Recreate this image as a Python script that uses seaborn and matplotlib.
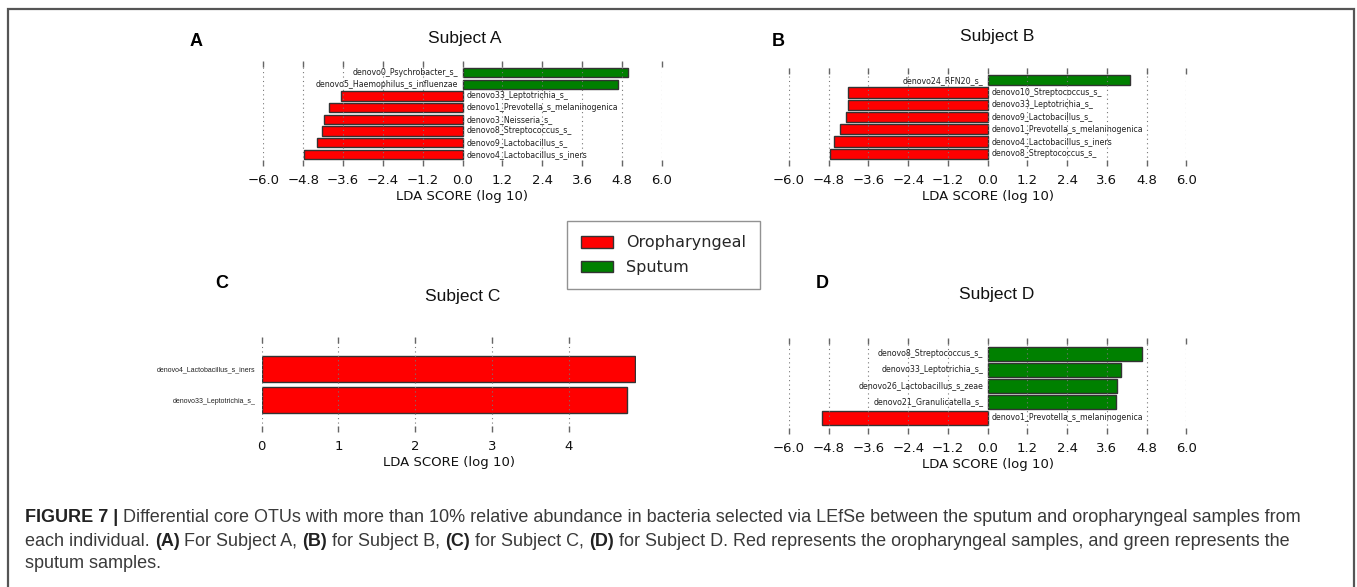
import matplotlib
matplotlib.use("Agg")
import matplotlib.pyplot as plt
import matplotlib.patches as mpatches
import seaborn as sns
import pandas as pd
import numpy as np

sns.set_style("white")
plt.rcParams['font.family'] = ['DejaVu Sans']

RED = "#FF0000"
GREEN = "#008000"
PAL = {"Oropharyngeal": RED, "Sputum": GREEN}

# ---------------- data ----------------
a_names = ["denovo0_Psychrobacter_s_", "denovo5_Haemophilus_s_influenzae",
           "denovo33_Leptotrichia_s_", "denovo1_Prevotella_s_melaninogenica",
           "denovo3_Neisseria_s_", "denovo8_Streptococcus_s_",
           "denovo9_Lactobacillus_s_", "denovo4_Lactobacillus_s_iners"]
a_scores = [4.97, 4.67, -3.67, -4.02, -4.16, -4.22, -4.39, -4.76]

b_names = ["denovo24_RFN20_s_", "denovo10_Streptococcus_s_",
           "denovo33_Leptotrichia_s_", "denovo9_Lactobacillus_s_",
           "denovo1_Prevotella_s_melaninogenica", "denovo4_Lactobacillus_s_iners",
           "denovo8_Streptococcus_s_"]
b_scores = [4.31, -4.22, -4.23, -4.28, -4.47, -4.65, -4.75]

c_names = ["denovo4_Lactobacillus_s_iners", "denovo33_Leptotrichia_s_"]
c_scores = [4.86, 4.76]

d_names = ["denovo8_Streptococcus_s_", "denovo33_Leptotrichia_s_",
           "denovo26_Lactobacillus_s_zeae", "denovo21_Granulicatella_s_",
           "denovo1_Prevotella_s_melaninogenica"]
d_scores = [4.66, 4.02, 3.90, 3.88, -5.00]

sym_ticks = [-6.0, -4.8, -3.6, -2.4, -1.2, 0.0, 1.2, 2.4, 3.6, 4.8, 6.0]
c_ticks = [0, 1, 2, 3, 4]

titles = ["Subject A", "Subject B", "Subject C", "Subject D"]
letters = ["A", "B", "C", "D"]
legend_labels = ["Oropharyngeal", "Sputum"]
xlabel = "LDA SCORE (log 10)"

caption = [
    [("FIGURE 7 | ", True), ("Differential core OTUs with more than 10% relative abundance in bacteria selected via LEfSe between the sputum and oropharyngeal samples from", False)],
    [("each individual. ", False), ("(A)", True), (" For Subject A, ", False), ("(B)", True),
     (" for Subject B, ", False), ("(C)", True), (" for Subject C, ", False), ("(D)", True),
     (" for Subject D. Red represents the oropharyngeal samples, and green represents the", False)],
    [("sputum samples.", False)],
]

W, H = 1357, 587
fig = plt.figure(figsize=(W / 100, H / 100), dpi=100)


def px_axes(left, top, right, bottom):
    return fig.add_axes([left / W, 1 - bottom / H, (right - left) / W, (bottom - top) / H])


def style_axes(ax, ticks):
    for s in ax.spines.values():
        s.set_visible(False)
    ax.set_xticks(ticks)
    ax.grid(True, axis='x', linestyle=(0, (1, 3)), color='#777777', linewidth=0.8)
    ax.grid(False, axis='y')
    ax.set_axisbelow(False)
    ax.tick_params(axis='x', which='major', direction='in', length=4.5, width=1.0,
                   color='#666666', top=True, bottom=True, labelsize=9.5, pad=6,
                   labelcolor='#111111')
    ax.tick_params(axis='y', left=False, right=False)
    ax.set_xlabel(xlabel, fontsize=9.5, color='#111111', labelpad=2)
    ax.set_ylabel("")


def lefse_panel(ax, names, scores, ticks):
    cls = ["Sputum" if s > 0 else "Oropharyngeal" for s in scores]
    df = pd.DataFrame({"name": names, "score": scores, "cls": cls})
    sns.barplot(data=df, x="score", y="name", hue="cls", order=names, palette=PAL,
                dodge=False, width=0.82, edgecolor="#333333", linewidth=1.0,
                saturation=1, legend=False, orient="h", ax=ax)
    ax.set_xlim(ticks[0], ticks[-1])
    ax.set_ylim(len(names), -1)
    style_axes(ax, ticks)
    ax.set_xticklabels([f"{t:.1f}".replace("-", "\u2212") for t in ticks])
    ax.set_yticks([])
    for i, (n, s) in enumerate(zip(names, scores)):
        if s > 0:
            ax.annotate(n, (0, i), xytext=(-3, 0), textcoords="offset points",
                        ha="right", va="center", fontsize=5.7, color="#222222")
        else:
            ax.annotate(n, (0, i), xytext=(3, 0), textcoords="offset points",
                        ha="left", va="center", fontsize=5.7, color="#222222")


axA = px_axes(263.3, 61, 661.7, 166)
lefse_panel(axA, a_names, a_scores, sym_ticks)
axB = px_axes(789, 68, 1186.3, 166)
lefse_panel(axB, b_names, b_scores, sym_ticks)
axD = px_axes(789, 338, 1186.3, 434)
lefse_panel(axD, d_names, d_scores, sym_ticks)

# Panel C
axC = px_axes(261.7, 337, 635.7, 432)
dfc = pd.DataFrame({"name": c_names, "score": c_scores, "cls": ["Oropharyngeal"] * len(c_names)})
sns.barplot(data=dfc, x="score", y="name", hue="cls", order=c_names, palette=PAL,
            dodge=False, width=0.82, edgecolor="#333333", linewidth=1.0,
            saturation=1, legend=False, orient="h", ax=axC)
axC.set_xlim(0, 4.87)
axC.set_ylim(len(c_names), -1)
style_axes(axC, c_ticks)
axC.set_xticklabels([str(t) for t in c_ticks])
axC.set_yticks(range(len(c_names)))
axC.set_yticklabels(c_names, fontsize=5, family="Liberation Sans", color="#222222")
axC.tick_params(axis='y', pad=1)

# titles and letters
for (x, y), t in zip([(465, 39), (997, 36), (463, 297), (997, 295)], titles):
    fig.text(x / W, 1 - y / H, t, ha="center", va="center", fontsize=12.5,
             family="Liberation Sans", color="#111111")
for (x, y), t in zip([(196, 42), (778, 42), (222, 283), (822, 283)], letters):
    fig.text(x / W, 1 - y / H, t, ha="center", va="center", fontsize=13,
             family="Liberation Sans", weight="bold", color="#000000")

# legend
handles = [mpatches.Patch(facecolor=PAL[l], edgecolor="#333333", linewidth=1.0, label=l)
           for l in legend_labels]
leg = fig.legend(handles=handles, loc="upper left",
                 bbox_to_anchor=(567 / W, 1 - 221 / H), fontsize=11.5,
                 frameon=True, fancybox=False, edgecolor="#777777",
                 handlelength=2.0, handleheight=0.75, borderpad=0.9,
                 labelspacing=0.6, handletextpad=0.8, borderaxespad=0)
leg.get_frame().set_linewidth(1.0)

# frame around figure
fig.add_artist(mpatches.Rectangle((8 / W, -0.05), (1354 - 8) / W, 1.05 - 9 / H,
                                  transform=fig.transFigure, fill=False,
                                  edgecolor="#555555", linewidth=1.6))

# caption
fig.canvas.draw()
renderer = fig.canvas.get_renderer()
x0 = 25
target_w = 1302 - 25
base = 10


def draw_line(pieces, y, size, draw=True):
    x = x0
    arts = []
    for txt, bold in pieces:
        t = fig.text(x / W, 1 - y / H, txt, ha="left", va="center", fontsize=size,
                     family="Liberation Sans", weight="bold" if bold else "normal",
                     color="#222222" if bold else "#3a3a3a")
        bb = t.get_window_extent(renderer)
        x = x + bb.width
        arts.append(t)
    if not draw:
        for a in arts:
            a.remove()
    return x - x0

w0 = draw_line(caption[0], 518, base, draw=False)
size = base * target_w / w0
for pieces, y in zip(caption, [518, 541, 564]):
    draw_line(pieces, y, size)

fig.savefig("out.png", dpi=100)
